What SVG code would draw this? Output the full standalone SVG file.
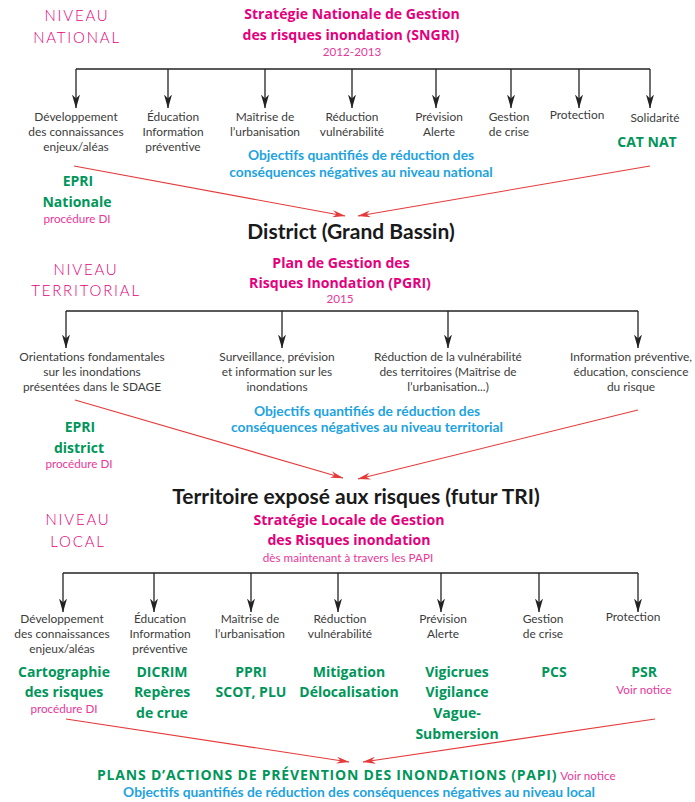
<svg xmlns="http://www.w3.org/2000/svg" width="695" height="802" viewBox="0 0 695 802">
<defs>
<style>
text{font-family:Lato,"Open Sans","DejaVu Sans",sans-serif;text-anchor:middle}
.lbl{font-size:11.9px;fill:#3c3c3c}
.niv{font-size:15px;fill:#e4007c;letter-spacing:1.8px;font-weight:300}
.mt{font-family:"Open Sans",Lato,sans-serif;font-size:14.1px;fill:#e4007c;font-weight:bold}
.ms{font-size:11.7px;fill:#e8389a}
.bl{font-size:13.8px;fill:#1ea3e0;font-weight:bold}
.gr{font-family:"Open Sans",Lato,sans-serif;font-size:14px;fill:#00965a;font-weight:bold}
.hd{font-size:21px;fill:#1a1a1a;font-weight:bold}
.k{stroke:#222;stroke-width:1.3;fill:none}
.r{stroke:#e63a3a;stroke-width:1.1;fill:none}
</style>
<marker id="ak" markerWidth="14" markerHeight="8" viewBox="0 0 14 8" refX="13.5" refY="4" orient="auto" markerUnits="userSpaceOnUse">
<path d="M0,0 L14,4 L0,8 L4,4 z" fill="#222"/>
</marker>
<marker id="ar" markerWidth="13" markerHeight="7" viewBox="0 0 13 7" refX="12.5" refY="3.5" orient="auto" markerUnits="userSpaceOnUse">
<path d="M0,0 L13,3.5 L0,7 L4,3.5 z" fill="#e63a3a"/>
</marker>
</defs>
<rect width="695" height="802" fill="#fff"/>

<g id="connectors">
<path class="k" d="M76,69 H650"/>
<g class="k" marker-end="url(#ak)">
<line x1="76" y1="69" x2="76" y2="108"/><line x1="168" y1="69" x2="168" y2="108"/><line x1="265" y1="69" x2="265" y2="108"/><line x1="352" y1="69" x2="352" y2="108"/><line x1="436" y1="69" x2="436" y2="108"/><line x1="511" y1="69" x2="511" y2="108"/><line x1="579" y1="69" x2="579" y2="108"/><line x1="650" y1="69" x2="650" y2="108"/>
</g>
<path class="k" d="M66,311 H638"/>
<g class="k" marker-end="url(#ak)">
<line x1="66" y1="311" x2="66" y2="348"/><line x1="282" y1="311" x2="282" y2="348"/><line x1="448" y1="311" x2="448" y2="348"/><line x1="638" y1="311" x2="638" y2="348"/>
</g>
<path class="k" d="M63,573 H638"/>
<g class="k" marker-end="url(#ak)">
<line x1="63" y1="573" x2="63" y2="612"/><line x1="154" y1="573" x2="154" y2="612"/><line x1="251" y1="573" x2="251" y2="612"/><line x1="338" y1="573" x2="338" y2="612"/><line x1="441" y1="573" x2="441" y2="612"/><line x1="539" y1="573" x2="539" y2="612"/><line x1="638" y1="573" x2="638" y2="612"/>
</g>
<g class="r" marker-end="url(#ar)">
<line x1="74" y1="166" x2="345" y2="216"/>
<line x1="650" y1="166" x2="358" y2="216"/>
<line x1="75" y1="400" x2="343" y2="478"/>
<line x1="638" y1="410" x2="358" y2="479"/>
<line x1="66" y1="719" x2="349" y2="762"/>
<line x1="655" y1="719" x2="363" y2="762"/>
</g>
</g>

<g id="niveau-national"><text class="niv" x="77" y="21">NIVEAU</text><text class="niv" x="77" y="43">NATIONAL</text></g>
<g id="sngri"><text class="mt" x="352" y="19">Stratégie Nationale de Gestion</text><text class="mt" x="351" y="40">des risques inondation (SNGRI)</text><text class="ms" x="352" y="56">2012-2013</text></g>

<g id="n-dev"><text class="lbl" x="76" y="121">Développement</text><text class="lbl" x="76" y="136">des connaissances</text><text class="lbl" x="76" y="151">enjeux/aléas</text></g>
<g id="n-edu"><text class="lbl" x="173" y="121">Éducation</text><text class="lbl" x="173" y="136">Information</text><text class="lbl" x="173" y="151">préventive</text></g>
<g id="n-mai"><text class="lbl" x="265" y="121">Maîtrise de</text><text class="lbl" x="265" y="136">l’urbanisation</text></g>
<g id="n-red"><text class="lbl" x="352" y="121">Réduction</text><text class="lbl" x="352" y="136">vulnérabilité</text></g>
<g id="n-pre"><text class="lbl" x="439" y="121">Prévision</text><text class="lbl" x="439" y="136">Alerte</text></g>
<g id="n-ges"><text class="lbl" x="509" y="121">Gestion</text><text class="lbl" x="509" y="136">de crise</text></g>
<g id="n-pro"><text class="lbl" x="577" y="119">Protection</text></g>
<g id="n-sol"><text class="lbl" x="655" y="122">Solidarité</text><text class="gr" x="647" y="147">CAT NAT</text></g>
<g id="n-obj"><text class="bl" x="361" y="160">Objectifs quantifiés de réduction des</text><text class="bl" x="361" y="177">conséquences négatives au niveau national</text></g>
<g id="n-epri"><text class="gr" x="78" y="186">EPRI</text><text class="gr" x="77" y="207">Nationale</text><text class="ms" x="77" y="223">procédure DI</text></g>

<g id="district"><text class="hd" x="351" y="239">District (Grand Bassin)</text></g>

<g id="niveau-territorial"><text class="niv" x="86" y="275">NIVEAU</text><text class="niv" x="86" y="296">TERRITORIAL</text></g>
<g id="pgri"><text class="mt" x="341" y="268">Plan de Gestion des</text><text class="mt" x="340" y="288">Risques Inondation (PGRI)</text><text class="ms" x="340" y="303">2015</text></g>

<g id="t-ori"><text class="lbl" x="92" y="361">Orientations fondamentales</text><text class="lbl" x="92" y="376">sur les inondations</text><text class="lbl" x="92" y="391">présentées dans le SDAGE</text></g>
<g id="t-sur"><text class="lbl" x="277" y="361">Surveillance, prévision</text><text class="lbl" x="277" y="376">et information sur les</text><text class="lbl" x="277" y="391">inondations</text></g>
<g id="t-red"><text class="lbl" x="448" y="361">Réduction de la vulnérabilité</text><text class="lbl" x="448" y="376">des territoires (Maîtrise de</text><text class="lbl" x="448" y="391">l’urbanisation...)</text></g>
<g id="t-inf"><text class="lbl" x="631" y="361">Information préventive,</text><text class="lbl" x="631" y="376">éducation, conscience</text><text class="lbl" x="631" y="391">du risque</text></g>
<g id="t-obj"><text class="bl" x="367" y="416">Objectifs quantifiés de réduction des</text><text class="bl" x="367" y="432">conséquences négatives au niveau territorial</text></g>
<g id="t-epri"><text class="gr" x="80" y="432">EPRI</text><text class="gr" x="79" y="453">district</text><text class="ms" x="79" y="468">procédure DI</text></g>

<g id="territoire"><text class="hd" x="356" y="504">Territoire exposé aux risques (futur TRI)</text></g>

<g id="niveau-local"><text class="niv" x="78" y="525">NIVEAU</text><text class="niv" x="78" y="547">LOCAL</text></g>
<g id="slgri"><text class="mt" x="349" y="525">Stratégie Locale de Gestion</text><text class="mt" x="349" y="545">des Risques inondation</text><text class="ms" x="348" y="562">dès maintenant à travers les PAPI</text></g>

<g id="l-dev"><text class="lbl" x="62" y="623">Développement</text><text class="lbl" x="62" y="638">des connaissances</text><text class="lbl" x="62" y="653">enjeux/aléas</text><text class="gr" x="64" y="677">Cartographie</text><text class="gr" x="64" y="697">des risques</text><text class="ms" x="64" y="713">procédure DI</text></g>
<g id="l-edu"><text class="lbl" x="160" y="623">Éducation</text><text class="lbl" x="160" y="638">Information</text><text class="lbl" x="160" y="653">préventive</text><text class="gr" x="162" y="677">DICRIM</text><text class="gr" x="162" y="697">Repères</text><text class="gr" x="162" y="718">de crue</text></g>
<g id="l-mai"><text class="lbl" x="250" y="623">Maîtrise de</text><text class="lbl" x="250" y="638">l’urbanisation</text><text class="gr" x="251" y="677">PPRI</text><text class="gr" x="251" y="697">SCOT, PLU</text></g>
<g id="l-red"><text class="lbl" x="340" y="623">Réduction</text><text class="lbl" x="340" y="638">vulnérabilité</text><text class="gr" x="349" y="677">Mitigation</text><text class="gr" x="349" y="697">Délocalisation</text></g>
<g id="l-pre"><text class="lbl" x="443" y="623">Prévision</text><text class="lbl" x="443" y="638">Alerte</text><text class="gr" x="457" y="677">Vigicrues</text><text class="gr" x="457" y="697">Vigilance</text><text class="gr" x="457" y="718">Vague-</text><text class="gr" x="457" y="739">Submersion</text></g>
<g id="l-ges"><text class="lbl" x="543" y="623">Gestion</text><text class="lbl" x="543" y="638">de crise</text><text class="gr" x="554" y="677">PCS</text></g>
<g id="l-pro"><text class="lbl" x="633" y="621">Protection</text><text class="gr" x="644" y="677">PSR</text><text class="ms" x="644" y="694">Voir notice</text></g>

<g id="papi"><text x="97" y="780" style="text-anchor:start"><tspan class="gr" style="font-size:14px;letter-spacing:0.8px">PLANS D’ACTIONS DE PRÉVENTION DES INONDATIONS (PAPI)</tspan><tspan class="ms" dx="3">Voir notice</tspan></text><text class="bl" x="359" y="797">Objectifs quantifiés de réduction des conséquences négatives au niveau local</text></g>
</svg>
